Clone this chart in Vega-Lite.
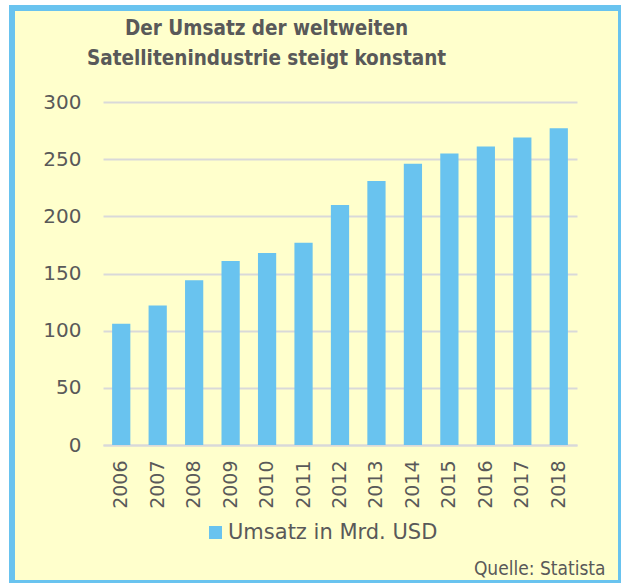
{
  "$schema": "https://vega.github.io/schema/vega-lite/v6.json",
  "width": 609,
  "height": 575,
  "autosize": {"type": "none"},
  "padding": {"left": 12, "top": 8, "right": 0, "bottom": 0},
  "background": "#FFFFFF",
  "title": {
    "text": ["Der Umsatz der weltweiten", "Satellitenindustrie steigt konstant"],
    "font": "DejaVu Sans Condensed, DejaVu Sans",
    "fontWeight": "bold",
    "fontSize": 20.5,
    "color": "#595959",
    "lineHeight": 30,
    "anchor": "middle",
    "frame": "group",
    "baseline": "top",
    "dx": -50,
    "offset": -61
  },
  "config": {
    "view": {"fill": "#FFFFCC", "stroke": "#69C3EF", "strokeWidth": 6},
    "font": "DejaVu Sans"
  },
  "data": {
    "values": [
      {"year": "2006", "value": 106, "series": "Umsatz in Mrd. USD"},
      {"year": "2007", "value": 122, "series": "Umsatz in Mrd. USD"},
      {"year": "2008", "value": 144, "series": "Umsatz in Mrd. USD"},
      {"year": "2009", "value": 161, "series": "Umsatz in Mrd. USD"},
      {"year": "2010", "value": 168, "series": "Umsatz in Mrd. USD"},
      {"year": "2011", "value": 177, "series": "Umsatz in Mrd. USD"},
      {"year": "2012", "value": 210, "series": "Umsatz in Mrd. USD"},
      {"year": "2013", "value": 231, "series": "Umsatz in Mrd. USD"},
      {"year": "2014", "value": 246, "series": "Umsatz in Mrd. USD"},
      {"year": "2015", "value": 255, "series": "Umsatz in Mrd. USD"},
      {"year": "2016", "value": 261, "series": "Umsatz in Mrd. USD"},
      {"year": "2017", "value": 269, "series": "Umsatz in Mrd. USD"},
      {"year": "2018", "value": 277, "series": "Umsatz in Mrd. USD"}
    ]
  },
  "mark": {"type": "bar"},
  "encoding": {
    "x": {
      "field": "year",
      "type": "nominal",
      "sort": null,
      "scale": {"range": [91, 565], "paddingInner": 0.5, "paddingOuter": 0.25},
      "axis": {
        "orient": "bottom",
        "offset": -138,
        "labelAngle": -90,
        "labelFontSize": 19,
        "labelColor": "#595959",
        "labelPadding": 15,
        "ticks": false,
        "tickSize": 0,
        "domainColor": "#D9D9D9",
        "domainWidth": 2,
        "grid": false,
        "title": "Quelle: Statista",
        "titleFont": "DejaVu Sans Condensed, DejaVu Sans",
        "titleFontSize": 19,
        "titleFontWeight": "normal",
        "titleColor": "#595959",
        "titleAnchor": "end",
        "titleAlign": "right",
        "titleBaseline": "alphabetic",
        "titleX": 593,
        "titleY": 129
      }
    },
    "y": {
      "field": "value",
      "type": "quantitative",
      "scale": {"domain": [0, 300], "range": [437, 94], "nice": false},
      "axis": {
        "orient": "left",
        "offset": -91,
        "values": [0, 50, 100, 150, 200, 250, 300],
        "labelFontSize": 20,
        "labelColor": "#595959",
        "labelPadding": 22,
        "ticks": false,
        "tickSize": 0,
        "domain": false,
        "grid": true,
        "gridColor": "#D9D9D9",
        "gridWidth": 2,
        "title": null
      }
    },
    "color": {
      "field": "series",
      "type": "nominal",
      "scale": {"range": ["#69C3EF"]},
      "legend": {
        "orient": "none",
        "legendX": 193,
        "legendY": 514,
        "title": null,
        "padding": 0,
        "symbolType": "square",
        "symbolSize": 169,
        "symbolStrokeWidth": 0,
        "symbolOpacity": 1,
        "labelFontSize": 21,
        "labelColor": "#595959",
        "labelOffset": 2,
        "labelLimit": 400
      }
    }
  }
}
